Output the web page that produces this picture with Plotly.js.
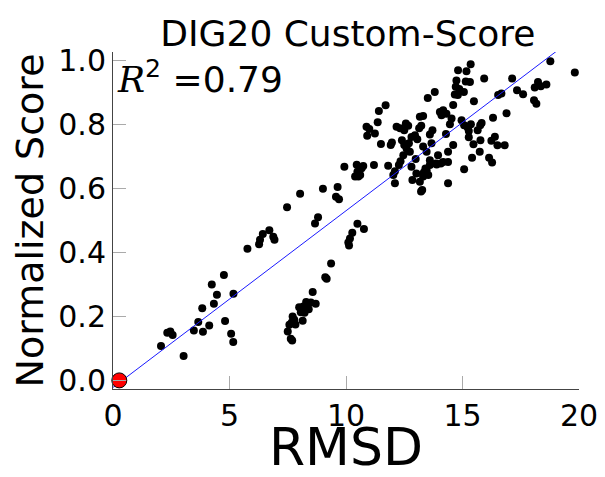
<!DOCTYPE html>
<html>
<head>
<meta charset="utf-8">
<script src="https://cdn.plot.ly/plotly-3.0.1.min.js"></script>
<style>html,body{margin:0;padding:0;background:#fff;}#chart{width:605px;height:477px;}</style>
</head>
<body>
<div id="chart"></div>
<script>
// RMSD (x) values of the decoys
var rmsd = [
  2.06,2.33,2.46,2.56,3.03,3.47,3.66,3.86,3.83,4.13,4.24,4.33,4.46,4.76,4.81,5.07,5.16,5.17,
  5.77,6.27,6.31,6.43,6.71,6.88,6.93,7.47,8.03,8.67,8.80,9.01,9.64,9.57,9.70,9.93,10.46,10.74,10.49,10.39,10.61,
  10.49,10.27,10.77,10.17,10.10,10.13,9.36,9.11,9.17,
  8.57,8.70,8.49,8.29,8.17,7.99,8.40,8.06,8.14,7.78,7.67,7.57,7.50,7.63,7.69,7.71,8.31,8.22,7.83,
  14.81,15.17,14.74,15.14,14.71,14.86,14.67,14.80,15.06,13.81,13.51,11.70,11.41,11.36,10.88,11.00,10.91,11.24,
  11.50,11.97,11.92,12.17,12.32,12.57,12.67,12.50,12.40,12.50,12.60,12.70,12.81,12.96,13.06,13.14,13.23,13.31,
  13.17,12.74,12.46,12.34,12.27,12.10,12.10,11.81,11.20,10.67,10.53,12.81,12.99,13.02,12.85,13.34,13.41,13.60,
  13.46,13.31,13.67,13.60,13.71,14.03,14.17,14.10,14.31,14.53,14.46,14.29,14.60,14.38,13.95,14.17,14.38,13.86,
  13.60,13.46,13.31,13.17,13.27,14.38,13.22,12.03,13.53,13.89,14.07,14.60,
  15.35,15.32,15.93,15.49,18.77,19.82,17.13,17.34,17.60,16.53,16.67,18.10,18.24,18.36,18.60,18.07,18.17,16.89,
  16.31,14.96,15.07,15.22,15.36,15.27,15.65,15.76,15.82,15.27,15.47,15.77,16.24,16.39,16.50,16.81,15.74,15.41,
  16.14,16.27,15.07
];
// Normalized score (y) values of the decoys
var score = [
  0.108,0.149,0.153,0.142,0.076,0.156,0.183,0.152,0.226,0.172,0.300,0.240,0.268,0.330,0.186,0.146,0.120,0.271,
  0.412,0.426,0.440,0.458,0.470,0.450,0.440,0.542,0.584,0.491,0.511,0.600,0.605,0.575,0.567,0.669,0.675,0.671,0.653,0.638,0.643,
  0.490,0.462,0.474,0.444,0.432,0.422,0.366,0.323,0.318,
  0.277,0.240,0.244,0.245,0.231,0.229,0.223,0.213,0.187,0.190,0.181,0.174,0.153,0.130,0.125,0.200,0.240,0.212,0.175,
  0.971,0.968,0.939,0.936,0.919,0.912,0.895,0.893,0.903,0.903,0.884,0.861,0.843,0.808,0.794,0.787,0.766,0.773,
  0.740,0.745,0.737,0.794,0.789,0.804,0.797,0.783,0.752,0.737,0.726,0.742,0.762,0.767,0.755,0.789,0.797,0.828,
  0.825,0.716,0.705,0.686,0.674,0.655,0.617,0.672,0.674,0.664,0.638,0.669,0.693,0.648,0.627,0.651,0.663,0.689,
  0.716,0.732,0.742,0.770,0.783,0.840,0.846,0.830,0.835,0.820,0.802,0.771,0.737,0.716,0.705,0.684,0.684,0.679,
  0.674,0.658,0.638,0.622,0.596,0.617,0.591,0.643,0.643,0.676,0.679,0.862,
  0.990,0.934,0.945,0.874,0.999,0.964,0.945,0.908,0.896,0.893,0.898,0.917,0.934,0.921,0.926,0.877,0.866,0.836,
  0.822,0.814,0.799,0.792,0.802,0.781,0.783,0.799,0.806,0.761,0.739,0.752,0.750,0.763,0.736,0.736,0.716,0.697,
  0.697,0.682,0.661
];
// native structure
var nativeX = [0.27];
var nativeY = [0.0];
// regression line end points
var fitX = [0, 19.82];
var fitY = [-0.022, 1.074];
var xTicks = [0, 5, 10, 15, 20];
var xTickText = ['0', '5', '10', '15', '20'];
var yTicks = [0, 0.2, 0.4, 0.6, 0.8, 1.0];
var yTickText = ['0.0', '0.2', '0.4', '0.6', '0.8', '1.0'];
var r2Text = '0.79';

var FONT = 'DejaVu Sans, Verdana, sans-serif';

var traces = [
  {x: rmsd, y: score, type: 'scatter', mode: 'markers',
   marker: {color: '#000', size: 8, line: {width: 0}}, hoverinfo: 'x+y', showlegend: false},
  {x: fitX, y: fitY, type: 'scatter', mode: 'lines',
   line: {color: '#1a1aff', width: 1}, showlegend: false},
  {x: nativeX, y: nativeY, type: 'scatter', mode: 'markers', cliponaxis: false,
   marker: {color: '#ff0000', size: 15, line: {color: '#000', width: 1}}, showlegend: false}
];

var layout = {
  width: 605, height: 477,
  paper_bgcolor: '#fff', plot_bgcolor: '#fff',
  margin: {l: 113, r: 26, t: 52, b: 88},
  font: {family: FONT, color: '#000'},
  title: {text: 'DIG20 Custom-Score', font: {family: FONT, size: 36, color: '#000'},
          x: 0.575, xanchor: 'center', y: 0.93, yanchor: 'middle', yref: 'container'},
  xaxis: {
    range: [0, 20], tickvals: xTicks, ticktext: xTickText,
    ticks: 'inside', ticklen: 13, tickcolor: '#aaa', tickwidth: 1,
    showline: true, linecolor: '#444', linewidth: 1,
    showgrid: false, zeroline: false,
    tickfont: {family: FONT, size: 30, color: '#000'},
    title: {text: 'RMSD', font: {family: FONT, size: 52, color: '#000'}, standoff: 15}
  },
  yaxis: {
    range: [-0.027, 1.028], tickvals: yTicks, ticktext: yTickText,
    ticks: 'inside', ticklen: 13, tickcolor: '#aaa', tickwidth: 1,
    showline: true, linecolor: '#444', linewidth: 1,
    showgrid: false, zeroline: false,
    tickfont: {family: FONT, size: 30, color: '#000'},
    title: {text: 'Normalized Score', font: {family: FONT, size: 38, color: '#000'}, standoff: 2}
  },
  annotations: [{
    xref: 'paper', yref: 'paper', x: 0.004, y: 0.925, xanchor: 'left', yanchor: 'middle',
    showarrow: false,
    text: '<span style="font-family:DejaVu Serif, serif"><i>R</i></span><sup>2</sup> =' + r2Text,
    font: {family: FONT, size: 36, color: '#000'}
  }]
};

Plotly.newPlot('chart', traces, layout, {displayModeBar: false, staticPlot: true});
</script>
</body>
</html>
